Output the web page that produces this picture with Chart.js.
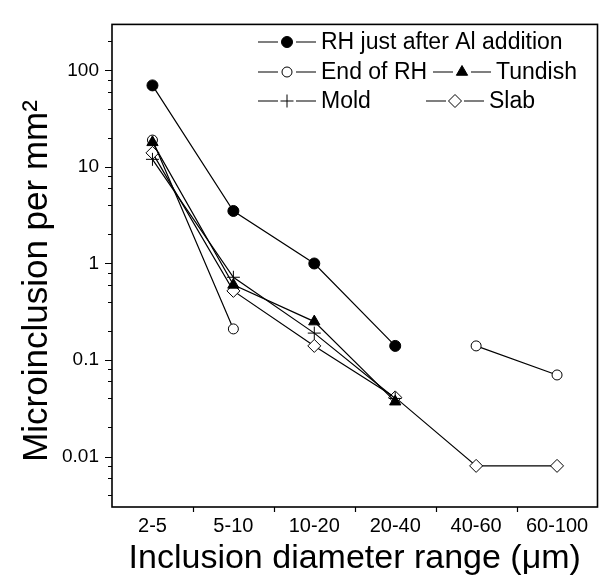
<!DOCTYPE html>
<html>
<head>
<meta charset="utf-8">
<script src="https://cdn.jsdelivr.net/npm/chart.js@4/dist/chart.umd.min.js"></script>
<style>
  html, body { margin: 0; padding: 0; background: #fff; }
  canvas { display: block; }
</style>
</head>
<body>
<canvas id="chart" width="605" height="580"></canvas>
<script>
// inclusion size classes (x axis)
const categories = ["2-5", "5-10", "10-20", "20-40", "40-60", "60-100"];

// microinclusions per mm2 (null = no point)
const rhAfterAl = [70, 3.5, 1.0, 0.14, null, null];
const endOfRH = [19, 0.21, null, null, 0.14, 0.07];
const tundish = [18, 0.6, 0.25, 0.037, null, null];
const mold = [12, 0.72, 0.19, 0.04, null, null];
const slab = [14, 0.52, 0.14, 0.041, 0.008, 0.008];

const seriesNames = ["RH just after Al addition", "End of RH", "Tundish", "Mold", "Slab"];

// log axis ticks
const yMajorTicks = [0.01, 0.1, 1, 10, 100];
const yMinorTicks = [0.004, 0.006, 0.008, 0.02, 0.04, 0.06, 0.08, 0.2, 0.4, 0.6, 0.8,
  2, 4, 6, 8, 20, 40, 60, 80, 200];
const yTickLabels = ["0.01", "0.1", "1", "10", "100"];

const FONT = "'Liberation Sans', Arial, Helvetica, sans-serif";
Chart.defaults.font.family = FONT;
Chart.defaults.color = "#000";

function series(label, data, style, radius, filled, order) {
  return {
    label: label,
    data: data,
    borderColor: "#000",
    borderWidth: 1.2,
    pointStyle: style,
    pointRadius: radius,
    pointBorderWidth: 1,
    pointBorderColor: "#000",
    pointBackgroundColor: filled ? "#000" : "#fff",
    spanGaps: false,
    tension: 0,
    order: order
  };
}

const datasets = [
  series(seriesNames[0], rhAfterAl, "circle", 5.5, true, 0),
  series(seriesNames[1], endOfRH, "circle", 5, false, 2),
  series(seriesNames[2], tundish, "triangle", 6.5, true, 1),
  series(seriesNames[3], mold, "cross", 6.5, false, 3),
  series(seriesNames[4], slab, "rectRot", 6.5, false, 4)
];

// where each legend entry sits (left end of the sample line, row centre)
const legendSlots = [
  { x: 257, y: 42 },
  { x: 257, y: 72 },
  { x: 432, y: 72 },
  { x: 257, y: 101 },
  { x: 425, y: 101 }
];

function drawMarker(ctx, ds, x, y) {
  ctx.save();
  ctx.fillStyle = ds.pointBackgroundColor;
  ctx.strokeStyle = ds.pointBorderColor;
  ctx.lineWidth = ds.pointBorderWidth;
  Chart.helpers.drawPoint(ctx, {
    pointStyle: ds.pointStyle,
    radius: ds.pointRadius,
    rotation: 0,
    borderWidth: ds.pointBorderWidth
  }, x, y);
  ctx.restore();
}

const framePlugin = {
  id: "frame",
  afterDraw(chart) {
    const ctx = chart.ctx;
    const a = chart.chartArea;
    const x = chart.scales.x;
    const y = chart.scales.y;
    ctx.save();
    ctx.strokeStyle = "#000";
    ctx.lineWidth = 1.6;
    ctx.strokeRect(a.left, a.top, a.right - a.left, a.bottom - a.top);

    // y ticks, long for decades, short for the rest
    ctx.lineWidth = 1.2;
    ctx.beginPath();
    yMajorTicks.forEach(v => {
      const py = Math.round(y.getPixelForValue(v)) + 0.5;
      ctx.moveTo(a.left - 7, py);
      ctx.lineTo(a.left, py);
    });
    yMinorTicks.forEach(v => {
      const py = Math.round(y.getPixelForValue(v)) + 0.5;
      ctx.moveTo(a.left - 4, py);
      ctx.lineTo(a.left, py);
    });
    // x ticks between categories
    for (let i = 0; i < categories.length - 1; i++) {
      const px = Math.round(x.getPixelForValue(i + 0.5)) + 0.5;
      ctx.moveTo(px, a.bottom);
      ctx.lineTo(px, a.bottom + 5);
    }
    ctx.stroke();

    // y axis title, sits a bit below the middle of the axis like the original
    ctx.save();
    ctx.translate(37, 281);
    ctx.rotate(-Math.PI / 2);
    ctx.font = "35px " + FONT;
    ctx.textAlign = "center";
    ctx.textBaseline = "middle";
    ctx.fillStyle = "#000";
    ctx.fillText("Microinclusion per mm\u00b2", 0, 0);
    ctx.restore();

    // legend
    ctx.font = "23px " + FONT;
    ctx.textBaseline = "middle";
    ctx.fillStyle = "#000";
    chart.data.datasets.forEach((ds, i) => {
      const s = legendSlots[i];
      ctx.lineWidth = 1.2;
      ctx.beginPath();
      ctx.moveTo(s.x + 1, s.y);
      ctx.lineTo(s.x + 21, s.y);
      ctx.moveTo(s.x + 39, s.y);
      ctx.lineTo(s.x + 59, s.y);
      ctx.stroke();
      drawMarker(ctx, ds, s.x + 30, s.y);
      ctx.fillText(ds.label, s.x + 64, s.y + 1);
    });
    ctx.restore();
  }
};

new Chart(document.getElementById("chart"), {
  type: "line",
  data: { labels: categories, datasets: datasets },
  options: {
    responsive: false,
    animation: false,
    layout: { padding: { top: 13, right: 3, left: 0, bottom: 0 } },
    plugins: { legend: { display: false }, tooltip: { enabled: false } },
    scales: {
      x: {
        type: "category",
        offset: true,
        grid: { display: true, drawOnChartArea: false, drawTicks: false },
        border: { display: false },
        ticks: { font: { size: 20 }, padding: 7, maxRotation: 0, autoSkip: false },
        title: {
          display: true,
          text: "Inclusion diameter range (\u03bcm)",
          font: { size: 34 },
          padding: { top: 0, bottom: 1 }
        },
        afterFit(s) { s.height = 73; }
      },
      y: {
        type: "logarithmic",
        min: 0.003,
        max: 300,
        grid: { display: true, drawOnChartArea: false, drawTicks: false },
        border: { display: false },
        afterBuildTicks(s) {
          s.ticks = yMajorTicks.map(v => ({ value: v }));
        },
        ticks: {
          font: { size: 19 },
          padding: 13,
          autoSkip: false,
          callback(v) {
            const i = yMajorTicks.indexOf(v);
            return i >= 0 ? yTickLabels[i] : "";
          }
        },
        afterFit(s) { s.width = 112; }
      }
    }
  },
  plugins: [framePlugin]
});
</script>
</body>
</html>
